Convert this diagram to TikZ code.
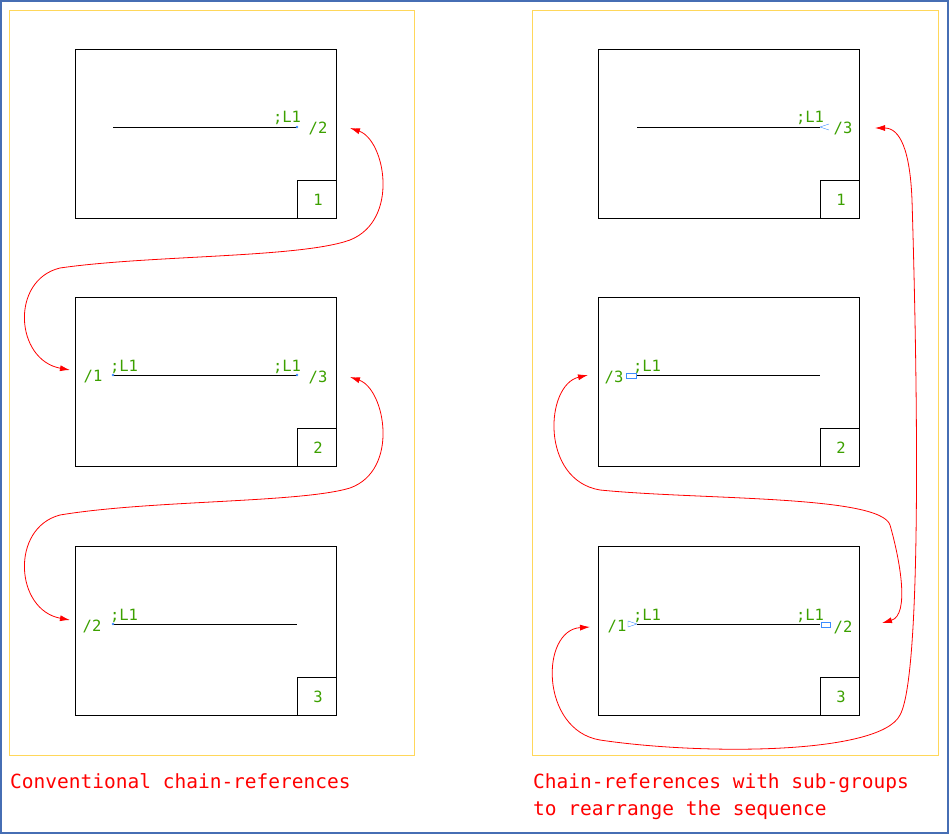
\documentclass[tikz,border=0pt]{standalone}
\usepackage{fontspec}
\setmonofont{DejaVu Sans Mono}
\usetikzlibrary{arrows.meta, positioning}
\definecolor{lblgreen}{RGB}{60,160,0}
\definecolor{refred}{RGB}{255,0,0}
\definecolor{panelyel}{RGB}{255,215,90}
\definecolor{frameblue}{RGB}{70,110,180}
\definecolor{markblue}{RGB}{60,140,255}
\tikzset{
    sheet/.style={draw, line width=0.8pt},
    wire/.style={draw, line width=0.8pt},
    lbl/.style={text=lblgreen, font=\ttfamily\fontsize{15.5}{15.5}\selectfont, inner sep=0pt},
    chain/.style={draw=refred, line width=0.8pt, {Latex[length=10pt,width=6pt]}-{Latex[length=10pt,width=6pt]}},
    caption/.style={text=refred, font=\ttfamily\fontsize{19.5}{27}\selectfont, inner sep=0pt, anchor=north west, align=left}
}
\begin{document}
\begin{tikzpicture}[x=1pt, y=-1pt]
    \useasboundingbox (0,0) rectangle (949,834);
    \draw[frameblue, line width=1.2pt] (1,1) rectangle (948,833);
    \draw[panelyel] (9,10) rectangle (414,755);
    \draw[panelyel] (532,10) rectangle (938,755);

    % Sheets
    \foreach \x/\s in {75/L, 598/R} {
        \foreach \i/\y in {1/49, 2/297, 3/546} {
            \draw[sheet] (\x,\y) rectangle +(261,169);
            \draw[sheet] (\x+222,\y+131) rectangle (\x+261,\y+169);
            \node[lbl] (num\s\i) at (\x+243,\y+151) {\i};
        }
    }

    % Conventional
    \draw[wire] (113,127) -- (297,127);
    \draw[wire] (113,375) -- (297,375);
    \draw[wire] (113,624) -- (297,624);
    \node[lbl] (lA) at (287,118) {;L1};
    \node[lbl] (rA) at (318,128) {/2};
    \node[lbl] (lB1) at (124,367) {;L1};
    \node[lbl] (lB2) at (287,367) {;L1};
    \node[lbl] (xB) at (93,377) {/1};
    \node[lbl] (rB) at (318,377) {/3};
    \node[lbl] (lC) at (124,616) {;L1};
    \node[lbl] (xC) at (92,626) {/2};
    \foreach \p in {(297,127),(113,375),(297,375),(113,624)}
        \fill[markblue] \p circle (1.3pt);

    \draw[chain] (350,128) .. controls (385,140) and (400,220) .. (350,240)
        .. controls (300,258) and (150,255) .. (60,268)
        .. controls (10,280) and (15,360) .. (70,370);
    \draw[chain] (350,377) .. controls (385,389) and (400,470) .. (350,488)
        .. controls (300,503) and (150,500) .. (60,515)
        .. controls (10,528) and (15,610) .. (70,620);

    % Sub-groups
    \draw[wire] (637,127) -- (820,127);
    \draw[wire] (637,375) -- (820,375);
    \draw[wire] (637,624) -- (820,624);
    \node[lbl] (rl1) at (810,118) {;L1};
    \node[lbl] (rr1) at (843,128) {/3};
    \node[lbl] (rl2) at (647,367) {;L1};
    \node[lbl] (rx2) at (614,377) {/3};
    \node[lbl] (rl3a) at (647,616) {;L1};
    \node[lbl] (rl3b) at (810,616) {;L1};
    \node[lbl] (rx3) at (617,627) {/1};
    \node[lbl] (rr3) at (843,627) {/2};
    \draw[markblue] (820,127) -- (829,124) (820,127) -- (829,130);
    \draw[markblue] (637,624) -- (628,621) (637,624) -- (628,627) (628,621) -- (628,627);
    \draw[markblue] (626,373) rectangle (636,378);
    \draw[markblue] (821,622) rectangle (830,627);

    \draw[chain] (882,623) .. controls (910,615) and (900,560) .. (890,525)
        .. controls (880,495) and (700,500) .. (600,490)
        .. controls (540,480) and (545,385) .. (588,375);
    \draw[chain] (590,627) .. controls (540,630) and (540,730) .. (600,740)
        .. controls (700,755) and (880,755) .. (900,715)
        .. controls (925,670) and (915,300) .. (912,200)
        .. controls (910,150) and (900,128) .. (875,128);

    % Captions
    \node[caption] (capL) at (10,773) {Conventional chain-references};
    \node[caption] (capR) at (533,773) {Chain-references with sub-groups\\to rearrange the sequence};
\end{tikzpicture}
\end{document}
